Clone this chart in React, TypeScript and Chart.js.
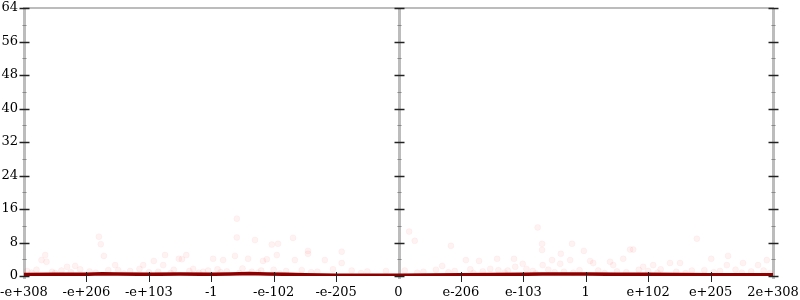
import React, { useEffect, useRef } from "react";
import { Chart, registerables } from "chart.js";

Chart.register(...registerables);

const xLabels = ["-e+308", "-e+206", "-e+103", "-1", "-e-102", "-e-205", "0", "e-206", "e-103", "1", "e+102", "e+205", "2e+308"];
const yMajorTicks = [0, 8, 16, 24, 32, 40, 48, 56, 64];
const yMinorTicks = [4, 12, 20, 28, 36, 44, 52, 60];
const axisPositions = [0, 6, 12];

const lineX = [0, 0.5, 1, 1.25, 1.5, 2, 2.5, 3, 3.3, 3.6, 3.9, 4.2, 4.5, 5, 5.5, 6, 6.5, 7, 7.5, 8, 8.3, 8.6, 9, 9.5, 10, 10.5, 11, 11.5, 12];
const lineY = [0.35, 0.4, 0.4, 0.55, 0.45, 0.4, 0.45, 0.4, 0.5, 0.6, 0.5, 0.4, 0.3, 0.2, 0.15, 0.2, 0.25, 0.3, 0.35, 0.4, 0.5, 0.45, 0.45, 0.4, 0.4, 0.35, 0.3, 0.3, 0.3];

const scatterX = [
  0.34, 0.28, 0.36, 0.69, 0.82, 1.20, 1.23, 1.28, 1.46, 1.51, 1.91, 2.08, 2.23, 2.26, 2.48, 2.53, 2.60, 2.71, 2.87,
  3.03, 3.19, 3.38, 3.41, 3.41, 3.59, 3.70, 3.83, 3.89, 3.97, 4.05, 4.07, 4.31, 4.34, 4.55, 4.55, 4.82, 5.09, 5.09,
  6.17, 6.26, 6.70, 6.84, 7.08, 7.29, 7.47, 7.58, 7.85, 7.87, 7.99, 8.23, 8.30, 8.30, 8.31, 8.46, 8.59, 8.60, 8.75, 8.78, 8.97, 9.07,
  9.12, 9.39, 9.44, 9.60, 9.71, 9.76, 9.92, 10.08, 10.35, 10.51, 10.78, 11.01, 11.26, 11.28, 11.52, 11.76, 11.90,
  0.05, 0.2, 0.45, 0.6, 0.9, 1.05, 1.35, 1.7, 1.85, 2.15, 2.4, 2.65, 2.95, 3.1, 3.25, 3.5, 3.65, 3.8, 4.0, 4.2, 4.45, 4.7, 4.95, 5.25, 5.5, 5.8,
  6.1, 6.4, 6.6, 6.9, 7.15, 7.35, 7.6, 7.75, 8.05, 8.15, 8.4, 8.65, 8.9, 9.2, 9.5, 9.85, 10.0, 10.2, 10.45, 10.7, 10.9, 11.15, 11.4, 11.65, 11.85,
  0.12, 0.5, 0.75, 1.15, 1.6, 2.0, 2.35, 2.8, 3.15, 3.45, 3.75, 4.1, 4.6, 5.4, 6.3, 6.8, 7.2, 7.7, 8.2, 8.5, 8.8, 9.3, 9.65, 10.15, 10.6, 11.05, 11.5, 11.95
];
const scatterY = [
  5.0, 3.8, 3.4, 2.2, 2.4, 9.4, 7.6, 4.8, 2.6, 1.4, 2.6, 3.6, 2.6, 5.0, 4.1, 4.0, 5.0, 1.7, 1.0,
  4.1, 3.8, 4.8, 13.7, 9.2, 4.1, 8.6, 3.6, 4.0, 7.5, 5.0, 7.7, 9.1, 3.8, 6.0, 5.3, 3.8, 5.8, 3.1,
  10.6, 8.4, 2.4, 7.2, 3.8, 3.6, 1.7, 4.1, 4.1, 2.2, 2.9, 11.6, 7.7, 6.2, 2.6, 3.8, 2.9, 5.3, 3.8, 7.7, 6.0, 3.6,
  3.1, 3.4, 2.6, 4.1, 6.3, 6.3, 2.2, 2.6, 3.1, 3.1, 8.9, 4.1, 2.6, 4.8, 3.1, 2.6, 3.8,
  1.2, 1.5, 1.0, 1.3, 1.6, 1.1, 1.4, 1.2, 1.7, 1.0, 1.5, 1.2, 1.3, 1.6, 1.1, 1.8, 1.0, 1.3, 1.5, 1.2, 1.4, 1.0, 1.6, 1.3, 1.1, 1.2,
  1.3, 1.0, 1.5, 1.2, 1.6, 1.1, 1.4, 1.3, 1.7, 1.2, 1.5, 1.0, 1.4, 1.3, 1.1, 1.5, 1.2, 1.6, 1.0, 1.3, 1.4, 1.2, 1.5, 1.1, 1.3,
  0.8, 0.7, 0.9, 0.8, 0.6, 0.9, 0.7, 0.8, 0.9, 0.7, 0.8, 0.6, 0.9, 0.7, 0.8, 0.9, 0.7, 0.8, 0.6, 0.9, 0.8, 0.7, 0.9, 0.8, 0.7, 0.9, 0.8, 0.7
];

const flotAxes = {
  id: "flotAxes",
  beforeDatasetsDraw(chart: any) {
    const { ctx, chartArea: a, scales } = chart;
    const xs = scales.x;
    const ys = scales.y;
    ctx.save();
    ctx.strokeStyle = "#bcbcbc";
    ctx.lineWidth = 2;
    ctx.beginPath();
    ctx.moveTo(a.left - 1, Math.round(ys.getPixelForValue(64)));
    ctx.lineTo(a.right + 1, Math.round(ys.getPixelForValue(64)));
    ctx.stroke();
    ctx.lineWidth = 3;
    for (const p of axisPositions) {
      const px = Math.round(xs.getPixelForValue(p)) + 0.5;
      ctx.beginPath();
      ctx.moveTo(px, a.top);
      ctx.lineTo(px, a.bottom + 3);
      ctx.stroke();
    }
    ctx.restore();
  },
  afterDatasetsDraw(chart: any) {
    const { ctx, scales } = chart;
    const xs = scales.x;
    const ys = scales.y;
    ctx.save();
    for (const p of axisPositions) {
      const px = Math.round(xs.getPixelForValue(p)) + 0.5;
      ctx.lineWidth = 1.5;
      ctx.strokeStyle = "#222";
      for (const v of yMajorTicks) {
        const py = Math.round(ys.getPixelForValue(v)) + 0.5;
        ctx.beginPath();
        ctx.moveTo(px - 5, py);
        ctx.lineTo(px + 5, py);
        ctx.stroke();
      }
      ctx.lineWidth = 1;
      ctx.strokeStyle = "#888";
      for (const v of yMinorTicks) {
        const py = Math.round(ys.getPixelForValue(v)) + 0.5;
        ctx.beginPath();
        ctx.moveTo(px - 2, py);
        ctx.lineTo(px + 2, py);
        ctx.stroke();
      }
    }
    ctx.strokeStyle = "#222";
    ctx.lineWidth = 1;
    const by = ys.getPixelForValue(0);
    xLabels.forEach((_, i) => {
      if (axisPositions.includes(i)) return;
      const px = Math.round(xs.getPixelForValue(i)) + 0.5;
      ctx.beginPath();
      ctx.moveTo(px, by - 4);
      ctx.lineTo(px, by + 6);
      ctx.stroke();
    });
    ctx.restore();
  },
};

export default function App() {
  const ref = useRef<HTMLCanvasElement | null>(null);
  useEffect(() => {
    if (!ref.current) return;
    const font = { family: "'DejaVu Serif', serif", size: 13 };
    const chart = new Chart(ref.current, {
      type: "scatter",
      data: {
        datasets: [
          {
            type: "line",
            data: lineX.map((x, i) => ({ x, y: lineY[i] })),
            borderColor: "#8e0000",
            borderWidth: 3.5,
            pointRadius: 0,
            tension: 0,
            order: 0,
          },
          {
            type: "scatter",
            data: scatterX.map((x, i) => ({ x, y: scatterY[i] })),
            backgroundColor: "rgba(255,40,40,0.06)",
            borderColor: "rgba(255,40,40,0.04)",
            borderWidth: 1,
            pointRadius: 3,
            order: 1,
          },
        ],
      },
      options: {
        responsive: false,
        animation: false,
        devicePixelRatio: 1,
        layout: { padding: { top: 8, right: 27, left: 0, bottom: 0 } },
        plugins: { legend: { display: false }, tooltip: { enabled: false } },
        scales: {
          x: {
            type: "linear",
            min: 0,
            max: 12,
            grid: { display: false, drawTicks: false },
            border: { display: false },
            ticks: {
              stepSize: 1,
              autoSkip: false,
              maxRotation: 0,
              padding: 9,
              color: "#000",
              font,
              callback: (v: any) => xLabels[Math.round(v)] ?? "",
            },
            afterFit: (s: any) => {
              s.height = 24;
              s.paddingLeft = 0;
              s.paddingRight = 0;
              s.paddingTop = 0;
              s.paddingBottom = 0;
            },
          },
          y: {
            min: 0,
            max: 64,
            grid: { display: false, drawTicks: false },
            border: { display: false },
            ticks: { stepSize: 8, padding: 6, color: "#000", font },
            afterFit: (s: any) => {
              s.width = 24;
              s.paddingLeft = 0;
              s.paddingRight = 0;
              s.paddingTop = 0;
              s.paddingBottom = 0;
            },
          },
        },
      },
      plugins: [flotAxes],
    } as any);
    return () => chart.destroy();
  }, []);
  return (
    <div style={{ position: "absolute", left: 0, top: 0, width: 800, height: 300, background: "#fff" }}>
      <canvas ref={ref} width={800} height={300} />
    </div>
  );
}
